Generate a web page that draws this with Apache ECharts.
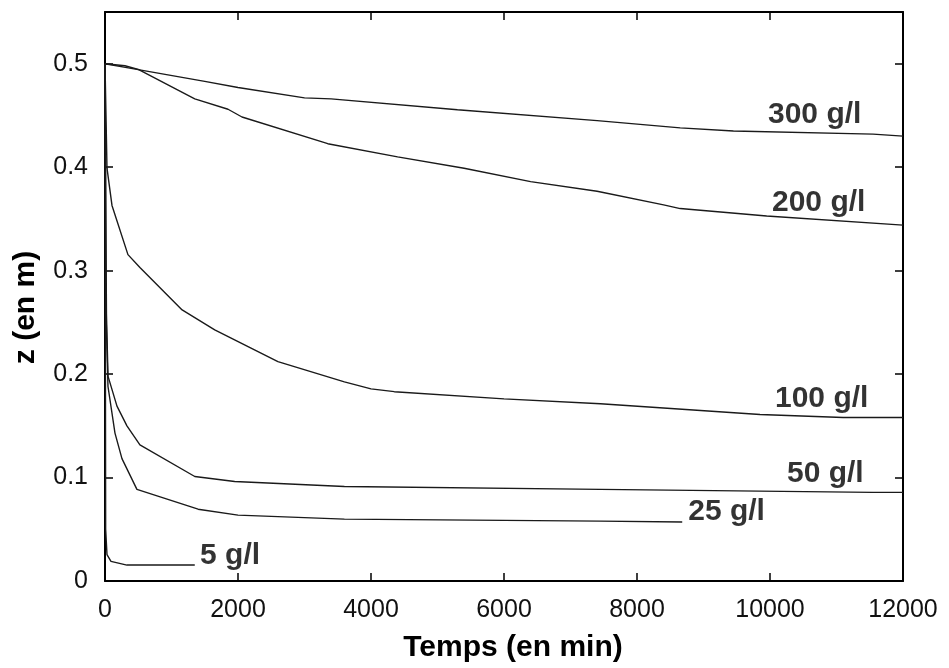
<!DOCTYPE html>
<html>
<head>
<meta charset="utf-8">
<script src="https://cdn.jsdelivr.net/npm/echarts@6/dist/echarts.min.js"></script>
<style>
  html, body { margin: 0; padding: 0; background: #fff; }
  #chart { width: 949px; height: 668px; }
</style>
</head>
<body>
<div id="chart"></div>
<script>
// Settling height z (m) versus time (min) for several concentrations
const t300 = [0, 350, 1500, 2000, 3000, 3400, 5300, 7400, 8650, 9450, 11550, 12000];
const z300 = [0.500, 0.496, 0.483, 0.477, 0.467, 0.466, 0.4555, 0.445, 0.438, 0.435, 0.432, 0.430];

const t200 = [0, 300, 500, 1350, 1850, 2060, 3350, 4400, 5400, 6400, 7400, 8400, 8650, 9950, 12000];
const z200 = [0.500, 0.498, 0.4945, 0.466, 0.456, 0.4485, 0.4227, 0.410, 0.399, 0.386, 0.3767, 0.3636, 0.360, 0.3528, 0.344];

const t100 = [0, 15, 30, 105, 345, 525, 1160, 1650, 2600, 3600, 4000, 4350, 6000, 7450, 9850, 11100, 12000];
const z100 = [0.500, 0.450, 0.399, 0.363, 0.3155, 0.303, 0.262, 0.2427, 0.212, 0.1925, 0.1857, 0.183, 0.176, 0.1714, 0.161, 0.158, 0.158];

const t50 = [0, 22, 45, 180, 330, 525, 1350, 1950, 3600, 7450, 11550, 12000];
const z50 = [0.500, 0.258, 0.198, 0.169, 0.150, 0.1316, 0.101, 0.0962, 0.0914, 0.0886, 0.0857, 0.0857];

const t25 = [0, 15, 45, 150, 255, 480, 1400, 2000, 3600, 7450, 8680];
const z25 = [0.500, 0.260, 0.188, 0.143, 0.1183, 0.0886, 0.0694, 0.0637, 0.0598, 0.0579, 0.057];

const t5 = [0, 10, 30, 90, 330, 1350];
const z5 = [0.500, 0.050, 0.0254, 0.019, 0.0154, 0.0154];

const curveNames = ['300 g/l', '200 g/l', '100 g/l', '50 g/l', '25 g/l', '5 g/l'];
const curveTimes = [t300, t200, t100, t50, t25, t5];
const curveHeights = [z300, z200, z100, z50, z25, z5];

// anchor points (data units) where each concentration label starts
const labelT = [9970, 10030, 10075, 10255, 8770, 1430];
const labelZ = [0.451, 0.366, 0.176, 0.104, 0.067, 0.0249];

const xTicks = [0, 2000, 4000, 6000, 8000, 10000, 12000];
const yTicks = [0, 0.1, 0.2, 0.3, 0.4, 0.5];

const FONT = '"Liberation Sans", Arial, Helvetica, sans-serif';
const pairs = (xs, ys) => xs.map((x, i) => [x, ys[i]]);

const frameLine = () => ({ show: true, onZero: false, lineStyle: { color: '#000', width: 2 } });
const inTick = () => ({ show: true, inside: true, length: 8, lineStyle: { color: '#000', width: 1.5 } });

const lineSeries = curveNames.map((name, i) => ({
  name: name,
  type: 'line',
  xAxisIndex: 0,
  yAxisIndex: 0,
  data: pairs(curveTimes[i], curveHeights[i]),
  showSymbol: false,
  symbol: 'none',
  smooth: false,
  lineStyle: { color: '#1a1a1a', width: 1.4 },
  z: 3
}));

const labelSeries = {
  type: 'scatter',
  xAxisIndex: 0,
  yAxisIndex: 0,
  symbolSize: 0,
  data: curveNames.map((n, i) => ({ name: n, value: [labelT[i], labelZ[i]] })),
  label: {
    show: true,
    position: 'right',
    distance: 0,
    formatter: p => p.name,
    fontFamily: FONT,
    fontWeight: 'bold',
    fontSize: 30,
    color: '#000'
  },
  silent: true,
  z: 4
};

const chart = echarts.init(document.getElementById('chart'), null, { renderer: 'canvas' });
chart.setOption({
  animation: false,
  backgroundColor: '#fff',
  grid: { left: 105, right: 46, top: 12, bottom: 81.5, containLabel: false },
  xAxis: [
    {
      type: 'value', position: 'bottom', min: 0, max: 12000, interval: 2000,
      axisLine: frameLine(), axisTick: inTick(), splitLine: { show: false },
      axisLabel: {
        margin: 17, fontFamily: FONT, fontSize: 25, color: '#111',
        formatter: v => xTicks.includes(v) ? String(v) : ''
      },
      name: 'Temps (en min)', nameLocation: 'middle', nameGap: 52,
      nameTextStyle: { fontFamily: FONT, fontWeight: 'bold', fontSize: 30, color: '#000', padding: [0, 0, 0, 18] }
    },
    {
      type: 'value', position: 'top', min: 0, max: 12000, interval: 2000,
      axisLine: frameLine(), axisTick: inTick(), axisLabel: { show: false }, splitLine: { show: false }
    }
  ],
  yAxis: [
    {
      type: 'value', position: 'left', min: 0, max: 0.55, interval: 0.1,
      axisLine: frameLine(), axisTick: inTick(), splitLine: { show: false },
      axisLabel: {
        margin: 17, fontFamily: FONT, fontSize: 25, color: '#111', showMaxLabel: false,
        formatter: v => {
          const r = Math.round(v * 10) / 10;
          return yTicks.includes(r) && Math.abs(r - v) < 1e-9 ? (r === 0 ? '0' : r.toFixed(1)) : '';
        }
      },
      name: 'z (en m)', nameLocation: 'middle', nameGap: 64, nameRotate: 90,
      nameTextStyle: { fontFamily: FONT, fontWeight: 'bold', fontSize: 30, color: '#000', padding: [0, 22, 0, 0] }
    },
    {
      type: 'value', position: 'right', min: 0, max: 0.55, interval: 0.1,
      axisLine: frameLine(), axisTick: inTick(), axisLabel: { show: false }, splitLine: { show: false }
    }
  ],
  series: lineSeries.concat([labelSeries])
});
</script>
</body>
</html>
